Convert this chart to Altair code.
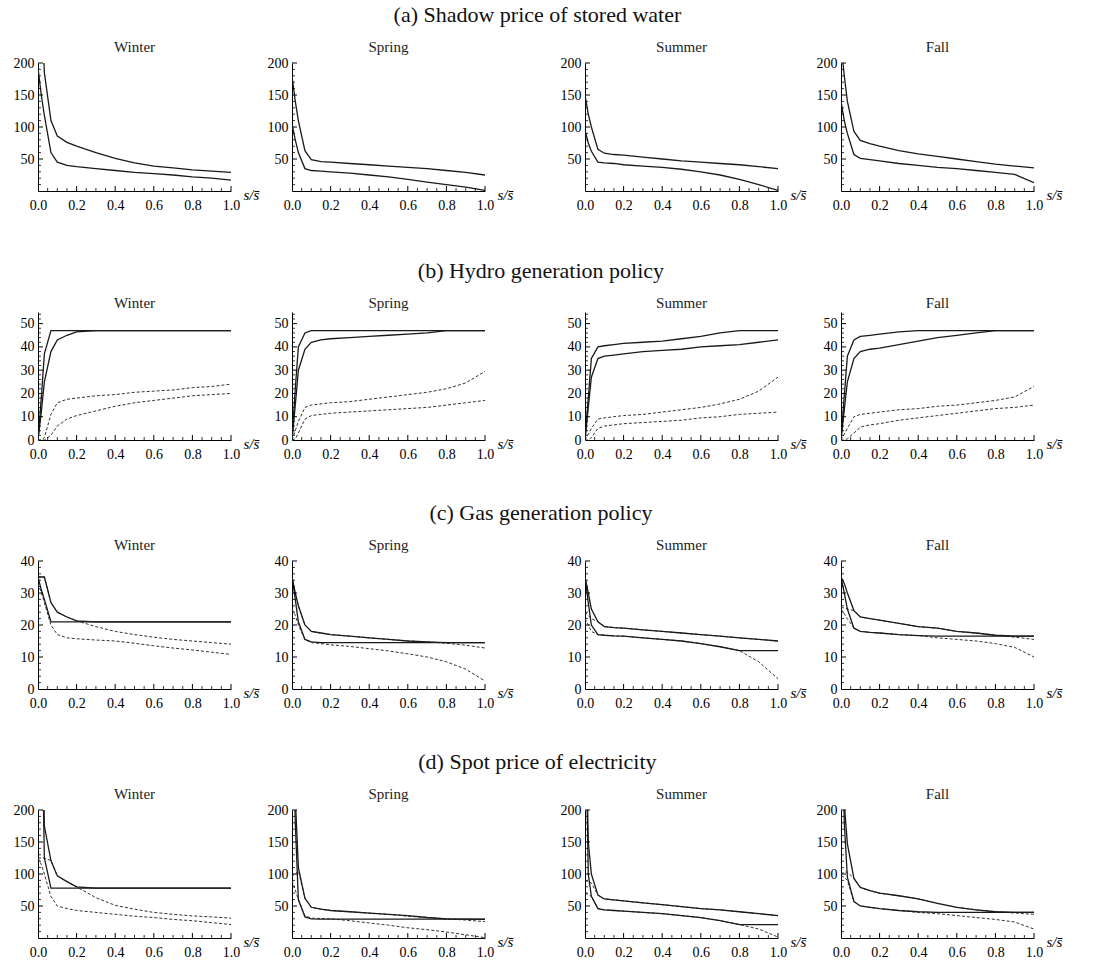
import altair as alt
import pandas as pd

X = [0, 0.017, 0.033, 0.067, 0.1, 0.15, 0.2, 0.3, 0.4, 0.5, 0.6, 0.7, 0.8, 0.9, 1.0]
SEASONS = ["Winter", "Spring", "Summer", "Fall"]
ROW_TITLES = ["(a) Shadow price of stored water", "(b) Hydro generation policy",
              "(c) Gas generation policy", "(d) Spot price of electricity"]
X_TICKS = [0, 0.2, 0.4, 0.6, 0.8, 1.0]
X_MINOR = [0.05, 0.1, 0.15, 0.25, 0.3, 0.35, 0.45, 0.5, 0.55, 0.65, 0.7, 0.75, 0.85, 0.9, 0.95]
Y_TICKS_A = [50, 100, 150, 200]
Y_TICKS_B = [0, 10, 20, 30, 40, 50]
Y_TICKS_C = [0, 10, 20, 30, 40]
Y_TICKS_D = [50, 100, 150, 200]
Y_MINOR_AD = [10, 20, 30, 40, 60, 70, 80, 90, 110, 120, 130, 140, 160, 170, 180, 190]
Y_MINOR_B = [2, 4, 6, 8, 12, 14, 16, 18, 22, 24, 26, 28, 32, 34, 36, 38, 42, 44, 46, 48, 52, 54]
Y_MINOR_C = [2, 4, 6, 8, 12, 14, 16, 18, 22, 24, 26, 28, 32, 34, 36, 38]

# (a) Shadow price of stored water
a_win_hi = [420, 300, 185, 110, 86, 76, 70, 60, 51, 44, 39, 36, 33, 31, 29]
a_win_lo = [192, 150, 118, 60, 45, 40, 38, 35, 32, 29, 27, 25, 22, 20, 17]
a_spr_hi = [180, 140, 110, 63, 49, 46, 45, 43, 41, 39, 37, 35, 32, 29, 25]
a_spr_lo = [105, 80, 60, 35, 32, 31, 30, 28, 25, 22, 18, 14, 10, 6, 1]
a_sum_hi = [150, 120, 100, 65, 59, 57, 56, 53, 50, 47, 45, 43, 41, 38, 35]
a_sum_lo = [95, 75, 62, 45, 44, 43, 41, 39, 37, 34, 30, 25, 18, 10, 1]
a_fal_hi = [230, 180, 140, 93, 79, 74, 70, 63, 58, 54, 50, 46, 42, 39, 36]
a_fal_lo = [140, 110, 90, 57, 51, 49, 47, 43, 40, 37, 35, 32, 29, 26, 13]

# (b) Hydro generation policy
b_win_s1 = [0, 18, 37, 47, 47, 47, 47, 47, 47, 47, 47, 47, 47, 47, 47]
b_win_s2 = [0, 12, 25, 38, 43, 45, 46.5, 47, 47, 47, 47, 47, 47, 47, 47]
b_win_d1 = [0, 0, 1, 11, 16, 17.5, 18, 19, 19.5, 20.5, 21, 21.5, 22.5, 23, 24]
b_win_d2 = [0, 0, 0, 2, 6, 9, 10.5, 12.5, 14.5, 16, 17, 18, 19, 19.5, 20]
b_spr_s1 = [0, 22, 40, 46, 47, 47, 47, 47, 47, 47, 47, 47, 47, 47, 47]
b_spr_s2 = [0, 15, 30, 39, 42, 43, 43.5, 44, 44.5, 45, 45.5, 46, 47, 47, 47]
b_spr_d1 = [0, 4, 8, 14, 15, 15.5, 16, 16.5, 17.5, 18.5, 19.5, 20.5, 22, 24.5, 29.5]
b_spr_d2 = [0, 0.5, 3, 9, 10.5, 11, 11.5, 12, 12.5, 13, 13.5, 14, 15, 16, 17]
b_sum_s1 = [0, 18, 35, 40, 40.5, 41, 41.5, 42, 42.5, 43.5, 44.5, 46, 47, 47, 47]
b_sum_s2 = [0, 14, 27, 35, 36, 36.5, 37, 38, 38.5, 39, 40, 40.5, 41, 42, 43]
b_sum_d1 = [0, 2.5, 5, 9, 9.5, 10, 10.5, 11, 12, 13, 14, 15.5, 17.5, 21, 27]
b_sum_d2 = [0, 0, 1, 5, 6, 6.5, 7, 7.5, 8, 8.5, 9.5, 10, 11, 11.5, 12]
b_fal_s1 = [0, 19, 36, 43, 44.5, 45, 45.5, 46.5, 47, 47, 47, 47, 47, 47, 47]
b_fal_s2 = [0, 13, 25, 35, 38, 39, 39.5, 41, 42.5, 44, 45, 46, 47, 47, 47]
b_fal_d1 = [0, 2.5, 5, 10, 11, 11.5, 12, 13, 13.5, 14.5, 15, 16, 17, 18.5, 23]
b_fal_d2 = [0, 0, 0.5, 3, 5.5, 6.5, 7, 8.5, 9.5, 10.5, 11.5, 12.5, 13.5, 14, 15]

# (c) Gas generation policy
c_win_s1 = [35, 35, 35, 27, 24, 22.5, 21.3, 21, 21, 21, 21, 21, 21, 21, 21]
c_win_s2 = [35, 31, 28, 21, 21, 21, 21, 21, 21, 21, 21, 21, 21, 21, 21]
c_win_d1 = [35, 35, 35, 27, 24, 22.5, 21.3, 19.5, 18, 17, 16.2, 15.5, 15, 14.5, 14]
c_win_d2 = [33, 30, 27, 20, 17, 16, 15.7, 15.3, 15, 14.3, 13.5, 12.8, 12.2, 11.5, 10.8]
c_spr_s1 = [35, 30, 26, 20, 18, 17.5, 17, 16.5, 16, 15.5, 15, 14.7, 14.5, 14.5, 14.5]
c_spr_s2 = [35, 28, 21, 15.5, 14.7, 14.5, 14.5, 14.5, 14.5, 14.5, 14.5, 14.5, 14.5, 14.5, 14.5]
c_spr_d1 = [35, 30, 26, 20, 18, 17.5, 17, 16.5, 16, 15.5, 15, 14.7, 14.3, 13.7, 12.8]
c_spr_d2 = [25, 23, 20, 15.5, 14.5, 14.2, 13.8, 13.3, 12.6, 11.9, 11, 10, 8.5, 6.2, 2.5]
c_sum_s1 = [35, 30, 25, 21, 19.5, 19.2, 19, 18.5, 18, 17.5, 17, 16.5, 16, 15.5, 15]
c_sum_s2 = [35, 27, 20, 17, 16.8, 16.6, 16.5, 16, 15.5, 15, 14.2, 13.2, 12, 12, 12]
c_sum_d1 = [24, 23, 22, 21, 19.5, 19.2, 19, 18.5, 18, 17.5, 17, 16.5, 16, 15.5, 15]
c_sum_d2 = [22, 20, 18, 17, 16.8, 16.6, 16.5, 16, 15.5, 15, 14.2, 13.2, 12, 8.5, 3.2]
c_fal_s1 = [35, 33, 30, 24.5, 22.5, 22, 21.5, 20.5, 19.5, 19, 18, 17.5, 16.8, 16.5, 16.5]
c_fal_s2 = [35, 30, 25, 19, 18, 17.7, 17.5, 17, 16.7, 16.5, 16.5, 16.5, 16.5, 16.5, 16.5]
c_fal_d1 = [25.5, 25.3, 25, 24.5, 22.5, 22, 21.5, 20.5, 19.5, 19, 18, 17.5, 16.8, 16.2, 15.5]
c_fal_d2 = [25, 23.5, 22, 19, 18, 17.7, 17.5, 17, 16.7, 16, 15.5, 15, 14.2, 13, 10]

# (d) Spot price of electricity
d_win_s1 = [400, 400, 175, 121, 97, 88, 80, 78, 78, 78, 78, 78, 78, 78, 78]
d_win_s2 = [400, 400, 125, 78, 78, 78, 78, 78, 78, 78, 78, 78, 78, 78, 78]
d_win_d1 = [125, 125, 125, 121, 97, 88, 80, 63, 51, 45, 40, 37, 34.5, 33, 31]
d_win_d2 = [125, 115, 100, 65, 50, 46, 43, 40, 37, 34, 32, 29, 27, 24, 21]
d_spr_s1 = [400, 220, 110, 62, 48, 45, 43, 41, 39, 37, 35, 32, 30, 29.5, 29]
d_spr_s2 = [400, 180, 60, 33, 30, 29.5, 29.5, 29.5, 29.5, 29.5, 29.5, 29.5, 29.5, 29.5, 29.5]
d_spr_d1 = [97, 100, 105, 62, 48, 45, 43, 41, 39, 37, 34, 32, 30, 28, 25.6]
d_spr_d2 = [90, 75, 60, 35, 31, 30.5, 30, 27, 23.5, 20, 16, 13, 9.4, 5, 0.5]
d_sum_s1 = [400, 150, 100, 67, 61, 59.5, 58, 55, 52, 49, 46, 44, 41, 38, 35]
d_sum_s2 = [400, 100, 65, 46, 44, 43, 42, 40, 38, 35, 32, 27, 21, 21, 21]
d_sum_d1 = [90, 88, 86, 67, 61, 59.5, 58, 55, 52, 49, 46, 44, 41, 38, 35]
d_sum_d2 = [70, 68, 65, 46, 44, 43, 42, 40, 38, 35, 32, 27, 21, 14, 1.5]
d_fal_s1 = [400, 210, 147, 93, 79, 74, 70, 66, 61, 54, 48, 44, 41, 40, 40]
d_fal_s2 = [400, 180, 95, 57, 50, 48, 46, 43, 41, 40, 40, 40, 40, 40, 40]
d_fal_d1 = [100, 103, 103, 93, 79, 74, 70, 66, 61, 54, 48, 44, 41, 39, 37]
d_fal_d2 = [97, 95, 90, 57, 50, 48, 46, 43, 40, 38, 35, 32, 29, 25, 14]

ROWS = [
    {"domain": [0, 200], "ticks": Y_TICKS_A, "minor": Y_MINOR_AD, "curves": {
        "Winter": [("hi", "solid", a_win_hi), ("lo", "solid", a_win_lo)],
        "Spring": [("hi", "solid", a_spr_hi), ("lo", "solid", a_spr_lo)],
        "Summer": [("hi", "solid", a_sum_hi), ("lo", "solid", a_sum_lo)],
        "Fall": [("hi", "solid", a_fal_hi), ("lo", "solid", a_fal_lo)]}},
    {"domain": [0, 55], "ticks": Y_TICKS_B, "minor": Y_MINOR_B, "curves": {
        "Winter": [("s1", "solid", b_win_s1), ("s2", "solid", b_win_s2), ("d1", "dashed", b_win_d1), ("d2", "dashed", b_win_d2)],
        "Spring": [("s1", "solid", b_spr_s1), ("s2", "solid", b_spr_s2), ("d1", "dashed", b_spr_d1), ("d2", "dashed", b_spr_d2)],
        "Summer": [("s1", "solid", b_sum_s1), ("s2", "solid", b_sum_s2), ("d1", "dashed", b_sum_d1), ("d2", "dashed", b_sum_d2)],
        "Fall": [("s1", "solid", b_fal_s1), ("s2", "solid", b_fal_s2), ("d1", "dashed", b_fal_d1), ("d2", "dashed", b_fal_d2)]}},
    {"domain": [0, 40], "ticks": Y_TICKS_C, "minor": Y_MINOR_C, "curves": {
        "Winter": [("s1", "solid", c_win_s1), ("s2", "solid", c_win_s2), ("d1", "dashed", c_win_d1), ("d2", "dashed", c_win_d2)],
        "Spring": [("s1", "solid", c_spr_s1), ("s2", "solid", c_spr_s2), ("d1", "dashed", c_spr_d1), ("d2", "dashed", c_spr_d2)],
        "Summer": [("s1", "solid", c_sum_s1), ("s2", "solid", c_sum_s2), ("d1", "dashed", c_sum_d1), ("d2", "dashed", c_sum_d2)],
        "Fall": [("s1", "solid", c_fal_s1), ("s2", "solid", c_fal_s2), ("d1", "dashed", c_fal_d1), ("d2", "dashed", c_fal_d2)]}},
    {"domain": [0, 200], "ticks": Y_TICKS_D, "minor": Y_MINOR_AD, "curves": {
        "Winter": [("s1", "solid", d_win_s1), ("s2", "solid", d_win_s2), ("d1", "dashed", d_win_d1), ("d2", "dashed", d_win_d2)],
        "Spring": [("s1", "solid", d_spr_s1), ("s2", "solid", d_spr_s2), ("d1", "dashed", d_spr_d1), ("d2", "dashed", d_spr_d2)],
        "Summer": [("s1", "solid", d_sum_s1), ("s2", "solid", d_sum_s2), ("d1", "dashed", d_sum_d1), ("d2", "dashed", d_sum_d2)],
        "Fall": [("s1", "solid", d_fal_s1), ("s2", "solid", d_fal_s2), ("d1", "dashed", d_fal_d1), ("d2", "dashed", d_fal_d2)]}},
]

PW = 193
PH = 128
GAPS = [61, 100, 63]
ROW_PITCH = 249
FONT = "Liberation Serif"


def make_panel(season, row):
    recs = []
    for cid, style, vals in row["curves"][season]:
        for xv, yv in zip(X, vals):
            recs.append({"x": xv, "y": yv, "curve": cid, "style": style})
    df = pd.DataFrame(recs)
    xscale = alt.Scale(domain=[0, 1], nice=False)
    yscale = alt.Scale(domain=row["domain"], nice=False)
    xaxis = alt.Axis(values=X_TICKS, format=".1f", title="s/s\u0304",
                     titleX=PW + 12, titleY=3, titleAlign="left",
                     titleBaseline="middle", titleFontStyle="italic",
                     titleFontWeight="normal", titleFontSize=15,
                     titleFont=FONT, labelFlush=False, labelPadding=7)
    yaxis = alt.Axis(values=row["ticks"], title=None)
    base = alt.Chart(df).encode(
        x=alt.X("x:Q", scale=xscale, axis=xaxis),
        y=alt.Y("y:Q", scale=yscale, axis=yaxis),
        detail="curve:N",
    )
    dashed = base.transform_filter(alt.datum.style == "dashed").mark_line(
        clip=True, strokeDash=[3, 2], strokeWidth=1, color="#333333")
    solid = base.transform_filter(alt.datum.style == "solid").mark_line(
        clip=True, strokeWidth=1.3, color="#1a1a1a")

    # inward tick marks, as in the original frame style
    xmaj = alt.Chart(pd.DataFrame({"t": X_TICKS[1:]})).mark_rule(
        color="black", strokeWidth=1).encode(
        x=alt.X("t:Q", scale=xscale, axis=xaxis), y=alt.value(PH), y2=alt.value(PH - 5))
    xmin = alt.Chart(pd.DataFrame({"t": X_MINOR})).mark_rule(
        color="black", strokeWidth=0.8).encode(
        x=alt.X("t:Q", scale=xscale, axis=xaxis), y=alt.value(PH), y2=alt.value(PH - 3))
    ymaj = alt.Chart(pd.DataFrame({"t": [v for v in row["ticks"] if v > 0]})).mark_rule(
        color="black", strokeWidth=1).encode(
        y=alt.Y("t:Q", scale=yscale, axis=yaxis), x=alt.value(0), x2=alt.value(5))
    ymin = alt.Chart(pd.DataFrame({"t": row["minor"]})).mark_rule(
        color="black", strokeWidth=0.8).encode(
        y=alt.Y("t:Q", scale=yscale, axis=yaxis), x=alt.value(0), x2=alt.value(3))

    return alt.layer(dashed, solid, xmaj, xmin, ymaj, ymin).properties(
        width=PW, height=PH,
        title=alt.TitleParams(season, font=FONT, fontSize=15, fontWeight="normal",
                              color="#222222", offset=1, anchor="middle"))


def spacer(w):
    return alt.Chart(pd.DataFrame({"v": [0]})).mark_point(opacity=0).encode(
        x=alt.value(0), y=alt.value(0)).properties(width=w, height=PH)


rows = []
for row, title in zip(ROWS, ROW_TITLES):
    items = []
    for i, season in enumerate(SEASONS):
        items.append(make_panel(season, row))
        if i < 3:
            items.append(spacer(GAPS[i]))
    rows.append(alt.hconcat(*items, spacing=0, bounds="flush",
                            title=alt.TitleParams(title, font=FONT, fontSize=22,
                                                  fontWeight="normal", color="#111111",
                                                  anchor="middle", offset=13)))

chart = alt.vconcat(*rows, spacing=ROW_PITCH, bounds="flush").properties(
    padding={"left": 12, "top": 3, "right": 5, "bottom": 5},
    background="white",
).configure_view(stroke="transparent").configure_axis(
    grid=False, domainColor="black", tickColor="black", tickSize=0,
    labelFont=FONT, labelFontSize=14, labelColor="black", labelPadding=4,
    domainWidth=1, tickWidth=1,
)

chart.save("out.html", embed_options={"renderer": "svg", "actions": False})
